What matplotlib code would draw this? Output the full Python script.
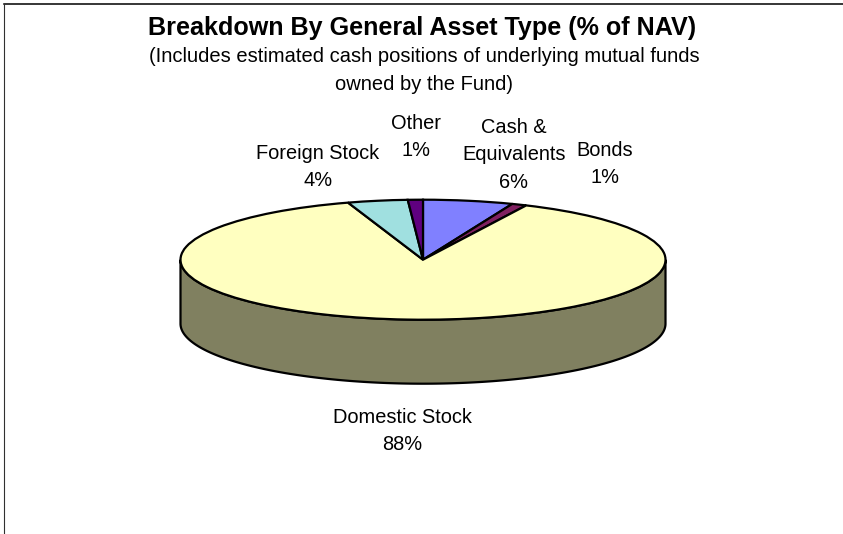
import numpy as np
import matplotlib
matplotlib.use("Agg")
import matplotlib.pyplot as plt
from matplotlib.patches import Polygon

plt.rcParams["font.family"] = ["Liberation Sans", "DejaVu Sans"]

# Asset allocation, clockwise from twelve o'clock
categories = ["Cash &\nEquivalents", "Bonds", "Domestic Stock", "Foreign Stock", "Other"]
values = [6, 1, 88, 4, 1]
slice_colors = ["#8080FF", "#802060", "#FFFFC0", "#A0E0E0", "#600080"]
side_color = "#808060"

title = "Breakdown By General Asset Type (% of NAV)"
subtitle = "(Includes estimated cash positions of underlying mutual funds\nowned by the Fund)"

W, H = 843, 534
fig = plt.figure(figsize=(W / 100, H / 100), dpi=100, facecolor="white")

# Full-figure overlay in pixel units for the border and text
page = fig.add_axes([0, 0, 1, 1], zorder=3)
page.set_xlim(0, W)
page.set_ylim(H, 0)
page.axis("off")

# Top face is a circular pie squashed by the axes' unequal scaling
cx, cy, rx, ry, depth = 423, 259.7, 242.5, 60, 64
ax = fig.add_axes([(cx - rx) / W, 1 - (cy + ry) / H, 2 * rx / W, 2 * ry / H], zorder=2)
ax.pie(values, colors=slice_colors, startangle=90, counterclock=False, radius=1,
       wedgeprops=dict(edgecolor="black", linewidth=1.6))
ax.set_xlim(-1, 1)
ax.set_ylim(-1, 1)
ax.set_aspect("auto")
for wedge in ax.patches:
    wedge.set_clip_on(False)
    wedge.set_zorder(3)

# Side wall below the front half of the rim
t = np.linspace(np.pi, 2 * np.pi, 200)
drop = 2 * depth / (2 * ry)
rim_x, rim_y = np.cos(t), np.sin(t)
wall = np.column_stack([np.r_[rim_x, rim_x[::-1]],
                        np.r_[rim_y - drop, rim_y[::-1]]])
ax.add_patch(Polygon(wall, closed=True, facecolor=side_color, edgecolor="black",
                     linewidth=1.6, clip_on=False, zorder=1))

# Chart border along the top and left edges
page.plot([4, W], [3.5, 3.5], color="black", lw=1.1)
page.plot([3.5, 3.5], [3.5, H], color="#303030", lw=0.8)

page.text(422, 27.5, title, ha="center", va="center", fontsize=18.1, fontweight="bold", color="black")
page.text(424, 70.5, subtitle, ha="center", va="center", fontsize=14.5, color="black", linespacing=1.55)

# Slice labels
label_xy = [(514, 155), (605, 164), (402, 431), (318, 167), (416, 137)]
for name, v, (x, y) in zip(categories, values, label_xy):
    page.text(x, y, f"{name}\n{v}%", ha="center", va="center", fontsize=14.4,
              color="black", linespacing=1.55)

fig.savefig("out.png", dpi=100)
